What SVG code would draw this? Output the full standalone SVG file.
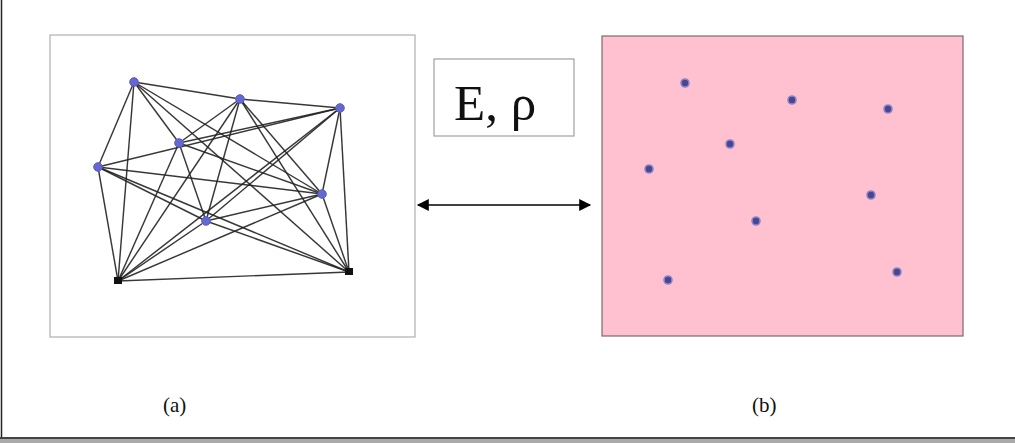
<svg xmlns="http://www.w3.org/2000/svg" width="1015" height="443" viewBox="0 0 1015 443">
<style>
.edge{stroke:#222;stroke-width:1.45;fill:none;stroke-opacity:0.9}
.gnode{fill:#6468d0;stroke:#5a5ec0;stroke-width:1}
.bnode{fill:#111}
.pdot{fill:#4a4590;stroke:#8a86c8;stroke-width:1.6}
.lbl{font-family:"Liberation Serif",serif;fill:#111}
</style>
<defs>
<marker id="ah" viewBox="0 0 10 10" refX="9" refY="5" markerWidth="14" markerHeight="12" markerUnits="userSpaceOnUse" orient="auto-start-reverse">
<path d="M0,0 L10,5 L0,10 z" fill="#000"/>
</marker>
</defs>
<rect x="0" y="0" width="1015" height="443" fill="#fff"/>
<line x1="1.5" y1="0" x2="1.5" y2="438" stroke="#222" stroke-width="1.5"/>
<rect x="0" y="437" width="1015" height="2" fill="#444"/>
<rect x="0" y="439" width="1015" height="4" fill="#aaa"/>

<g id="panel-a">
<rect x="50" y="35" width="365" height="302" fill="#fff" stroke="#b0b0b0" stroke-width="1.2"/>
</g>
<g id="panel-b">
<rect x="602" y="36" width="361" height="300" fill="#FFC1CF" stroke="#7a6a6e" stroke-width="1.2"/>
</g>

<g id="connectors">
<line class="edge" x1="134" y1="82" x2="240" y2="99"/>
<line class="edge" x1="134" y1="82" x2="98" y2="167"/>
<line class="edge" x1="134" y1="82" x2="118" y2="281"/>
<line class="edge" x1="134" y1="82" x2="179" y2="143"/>
<line class="edge" x1="134" y1="82" x2="322" y2="194"/>
<line class="edge" x1="134" y1="82" x2="349" y2="272"/>
<line class="edge" x1="240" y1="99" x2="340" y2="108"/>
<line class="edge" x1="240" y1="99" x2="179" y2="143"/>
<line class="edge" x1="240" y1="99" x2="206" y2="221"/>
<line class="edge" x1="240" y1="99" x2="118" y2="281"/>
<line class="edge" x1="240" y1="99" x2="322" y2="194"/>
<line class="edge" x1="240" y1="99" x2="349" y2="272"/>
<line class="edge" x1="340" y1="108" x2="98" y2="167"/>
<line class="edge" x1="340" y1="108" x2="179" y2="143"/>
<line class="edge" x1="340" y1="108" x2="322" y2="194"/>
<line class="edge" x1="340" y1="108" x2="349" y2="272"/>
<line class="edge" x1="340" y1="108" x2="206" y2="221"/>
<line class="edge" x1="179" y1="143" x2="206" y2="221"/>
<line class="edge" x1="179" y1="143" x2="118" y2="281"/>
<line class="edge" x1="179" y1="143" x2="322" y2="194"/>
<line class="edge" x1="98" y1="167" x2="322" y2="194"/>
<line class="edge" x1="98" y1="167" x2="349" y2="272"/>
<line class="edge" x1="98" y1="167" x2="118" y2="281"/>
<line class="edge" x1="98" y1="167" x2="206" y2="221"/>
<line class="edge" x1="322" y1="194" x2="206" y2="221"/>
<line class="edge" x1="322" y1="194" x2="118" y2="281"/>
<line class="edge" x1="322" y1="194" x2="349" y2="272"/>
<line class="edge" x1="206" y1="221" x2="118" y2="281"/>
<line class="edge" x1="206" y1="221" x2="349" y2="272"/>
<line class="edge" x1="118" y1="281" x2="349" y2="272"/>
<line class="edge" x1="118" y1="281" x2="340" y2="108"/>
<line x1="418" y1="205" x2="590" y2="205" stroke="#000" stroke-width="1.4" marker-start="url(#ah)" marker-end="url(#ah)"/>
</g>

<g id="graph-nodes">
<circle id="na" class="gnode" cx="134" cy="82" r="4.3"/>
<circle id="nb" class="gnode" cx="240" cy="99" r="4.3"/>
<circle id="nc" class="gnode" cx="340" cy="108" r="4.3"/>
<circle id="nd" class="gnode" cx="179" cy="143" r="4.3"/>
<circle id="ne" class="gnode" cx="98" cy="167" r="4.3"/>
<circle id="nf" class="gnode" cx="322" cy="194" r="4.3"/>
<circle id="ng" class="gnode" cx="206" cy="221" r="4.3"/>
<rect id="nh" class="bnode" x="114" y="277" width="8" height="7"/>
<rect id="ni" class="bnode" x="345" y="268" width="8" height="7"/>
</g>

<g id="particles">
<circle class="pdot" cx="685" cy="83" r="4"/>
<circle class="pdot" cx="792" cy="100" r="4"/>
<circle class="pdot" cx="888" cy="109" r="4"/>
<circle class="pdot" cx="730" cy="144" r="4"/>
<circle class="pdot" cx="649" cy="169" r="4"/>
<circle class="pdot" cx="871" cy="195" r="4"/>
<circle class="pdot" cx="756" cy="221" r="4"/>
<circle class="pdot" cx="668" cy="280" r="4"/>
<circle class="pdot" cx="897" cy="272" r="4"/>
</g>

<g id="param-box">
<rect x="434" y="59" width="140" height="77" fill="#fff" stroke="#a0a0a0" stroke-width="1.2"/>
<text class="lbl" x="454" y="120" font-size="51">E, ρ</text>
</g>

<g id="label-a"><text class="lbl" x="163" y="412" font-size="21">(a)</text></g>
<g id="label-b"><text class="lbl" x="752" y="412" font-size="21">(b)</text></g>
</svg>
